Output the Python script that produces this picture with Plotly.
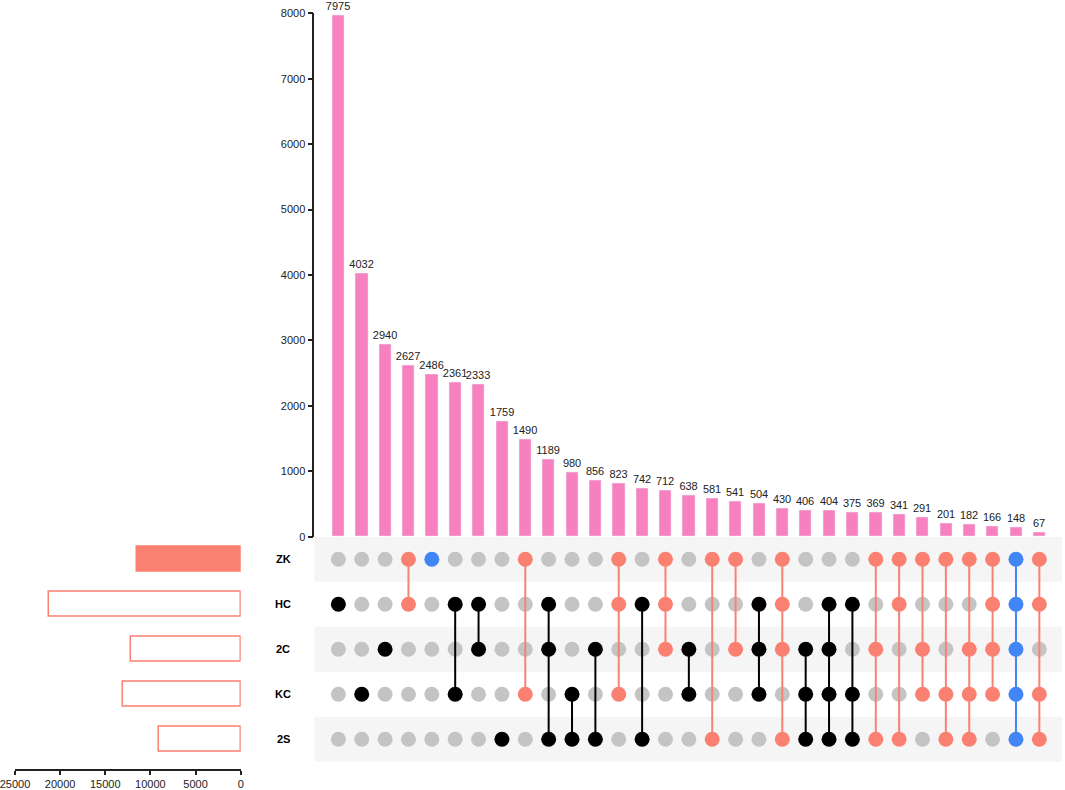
import plotly.graph_objects as go

# sets (top to bottom) and intersections
set_names = ["ZK", "HC", "2C", "KC", "2S"]

combos = [
    "HC", "KC", "2C", "ZK HC", "ZK", "HC KC", "HC 2C", "2S",
    "ZK KC", "HC 2C 2S", "KC 2S", "2C 2S", "ZK HC KC", "HC 2S", "ZK HC 2C", "2C KC",
    "ZK 2S", "ZK 2C", "HC 2C KC", "ZK HC 2C 2S", "2C KC 2S", "HC 2C KC 2S", "HC KC 2S",
    "ZK 2C 2S", "ZK HC 2S", "ZK 2C KC", "ZK KC 2S", "ZK 2C KC 2S", "ZK HC 2C KC",
    "ZK HC 2C KC 2S", "ZK HC KC 2S",
]
counts = [7975, 4032, 2940, 2627, 2486, 2361, 2333, 1759,
          1490, 1189, 980, 856, 823, 742, 712, 638,
          581, 541, 504, 430, 406, 404, 375,
          369, 341, 291, 201, 182, 166,
          148, 67]

members = [c.split() for c in combos]
set_sizes = [sum(n for m, n in zip(members, counts) if s in m) for s in set_names]

BAR_PINK = "#F781BF"
SALMON = "#FA8072"
BLUE = "#4285F4"
GREY = "#C4C4C4"
STRIPE = "#F5F5F5"
FONT = "Liberation Sans, Arial, sans-serif"


def col_color(m):
    if "ZK" in m:
        if len(m) == 1 or len(m) == len(set_names):
            return BLUE
        return SALMON
    return "black"


W, H = 1065, 790
def px_x(v):
    return v / W
def px_y(v):
    return (H - v) / H

ncol = len(combos)
xs = list(range(ncol))

fig = go.Figure()

# intersection size bars
fig.add_trace(go.Bar(
    x=xs, y=counts, marker_color=BAR_PINK, width=0.52,
    text=counts, textposition="outside", cliponaxis=False, constraintext="none",
    textfont=dict(size=11, color="#222", family=FONT),
    xaxis="x", yaxis="y", showlegend=False,
))

# matrix: grey dots for everything, coloured dots and lines on top
gx, gy = [], []
for i, m in enumerate(members):
    for r, s in enumerate(set_names):
        if s not in m:
            gx.append(i)
            gy.append(r)
fig.add_trace(go.Scatter(
    x=gx, y=gy, mode="markers", marker=dict(size=15, color=GREY),
    xaxis="x2", yaxis="y2", showlegend=False, hoverinfo="skip",
))

for colr in ["black", SALMON, BLUE]:
    lx, ly, dx, dy = [], [], [], []
    for i, m in enumerate(members):
        if col_color(m) != colr:
            continue
        rows = [set_names.index(s) for s in m]
        for r in rows:
            dx.append(i)
            dy.append(r)
        if len(rows) > 1:
            lx += [i, i, None]
            ly += [min(rows), max(rows), None]
    fig.add_trace(go.Scatter(
        x=lx, y=ly, mode="lines", line=dict(color=colr, width=2),
        xaxis="x2", yaxis="y2", showlegend=False, hoverinfo="skip",
    ))
    fig.add_trace(go.Scatter(
        x=dx, y=dy, mode="markers", marker=dict(size=15, color=colr),
        xaxis="x2", yaxis="y2", showlegend=False,
    ))

# set size bars (left)
fill = [SALMON if s == "ZK" else "white" for s in set_names]
fig.add_trace(go.Bar(
    x=set_sizes, y=list(range(len(set_names))), orientation="h", width=0.54,
    marker=dict(color=fill, line=dict(color=SALMON, width=1.5)),
    xaxis="x3", yaxis="y3", showlegend=False,
))

shapes = []
for r in range(0, len(set_names), 2):
    shapes.append(dict(
        type="rect", xref="x2 domain", yref="y2", x0=0, x1=1,
        y0=r - 0.5, y1=r + 0.5, fillcolor=STRIPE, line_width=0, layer="below",
    ))

annotations = []
for r, s in enumerate(set_names):
    annotations.append(dict(
        x=px_x(283), xref="paper", y=r, yref="y2", text="<b>%s</b>" % s,
        showarrow=False, xanchor="center", font=dict(size=11, color="black", family=FONT),
    ))

mat_dom = [px_y(761.7), px_y(536.7)]

fig.update_layout(
    width=W, height=H,
    margin=dict(l=0, r=0, t=0, b=0, autoexpand=False),
    paper_bgcolor="white", plot_bgcolor="rgba(0,0,0,0)",
    font=dict(family=FONT, size=11, color="#222"),
    xaxis=dict(domain=[px_x(314.3), px_x(1062)], range=[-1.03, ncol - 0.03],
               visible=False, anchor="y"),
    yaxis=dict(domain=[px_y(536.7), px_y(13.3)], range=[0, 8000], dtick=1000,
               showgrid=False, zeroline=False, showline=True, linecolor="#222",
               linewidth=1.5, ticks="outside", ticklen=5, tickwidth=1.5,
               tickcolor="#222", anchor="x", ticklabeloverflow="allow"),
    xaxis2=dict(domain=[px_x(314.3), px_x(1062)], matches="x", visible=False, anchor="y2"),
    yaxis2=dict(domain=mat_dom, range=[len(set_names) - 0.5, -0.5], visible=False, anchor="x2"),
    xaxis3=dict(domain=[px_x(15), px_x(240.7)], range=[25000, 0],
                tickvals=[25000, 20000, 15000, 10000, 5000, 0], tickformat="d",
                showgrid=False, zeroline=False, showline=True, linecolor="#222",
                linewidth=1.5, ticks="outside", ticklen=4, tickwidth=1.5,
                tickcolor="#222", anchor="free", position=px_y(770.2),
                ticklabeloverflow="allow", ticklabelstandoff=0),
    yaxis3=dict(domain=mat_dom, range=[len(set_names) - 0.5, -0.5], visible=False, anchor="x3"),
    shapes=shapes,
    annotations=annotations,
    bargap=0,
)

# drop the default page margin so the figure sits at the window corner
fig.write_html("out.html", config={"displayModeBar": False},
               post_script="document.body.style.margin = '0px';")
